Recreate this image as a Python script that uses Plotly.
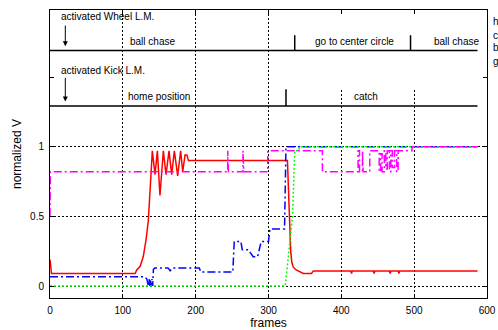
import plotly.graph_objects as go

# ---------------- data ----------------
red_x = [0, 2, 117, 119, 123.6, 128, 131.8, 135, 138.2, 140.5, 144.2, 147.4, 151, 155.6, 159.3, 163.4, 167.1,
         170.7, 175.3, 179.4, 182.2, 185.4, 188, 190, 326, 327.5, 329, 330.5, 332, 334, 338, 343, 347.8, 359,
         361.5, 413, 414, 415, 444, 445, 446, 466, 467, 468, 478, 479, 480, 587]
red_y = [0.19, 0.09, 0.09, 0.115, 0.14, 0.21, 0.33, 0.47, 0.76, 0.97, 0.8, 0.97, 0.65, 0.97, 0.8, 0.97, 0.8,
         0.97, 0.79, 0.97, 0.82, 0.94, 0.94, 0.9, 0.9, 0.65, 0.4, 0.25, 0.17, 0.135, 0.115, 0.103, 0.09, 0.09,
         0.107, 0.107, 0.09, 0.107, 0.107, 0.09, 0.107, 0.107, 0.09, 0.107, 0.107, 0.09, 0.107, 0.107]

blue_x = [0, 130, 133, 135, 136, 137, 138, 139, 140, 141, 142, 144, 162, 165, 168, 205, 207, 251, 253, 262,
          264, 273, 275, 279, 285, 287, 290, 300, 302, 322, 324, 587]
blue_y = [0.067, 0.067, 0.05, 0.0, 0.05, 0.0, 0.05, 0.0, 0.05, 0.0, 0.12, 0.13, 0.13, 0.11, 0.13, 0.13, 0.1,
          0.1, 0.32, 0.32, 0.26, 0.26, 0.24, 0.21, 0.21, 0.25, 0.32, 0.32, 0.41, 0.41, 1.0, 1.0]

mag_x = [0, 0.5, 244, 244, 245, 245, 265, 265, 266, 266, 299, 299, 374, 374, 423, 423, 425, 425, 429, 429,
         430, 430, 439, 439, 452, 452, 454, 454, 456, 456, 459, 459, 461, 461, 463, 463, 466, 466, 468, 468,
         470, 470, 473, 473, 476, 476, 478, 478, 497, 497, 587]
mag_y = [0.5, 0.82, 0.82, 0.97, 0.97, 0.82, 0.82, 0.97, 0.97, 0.82, 0.82, 0.97, 0.97, 0.82, 0.82, 0.97, 0.97,
         0.82, 0.82, 0.97, 0.97, 0.82, 0.82, 0.97, 0.97, 0.82, 0.82, 0.95, 0.95, 0.82, 0.82, 0.97, 0.97, 0.84,
         0.84, 0.97, 0.97, 0.82, 0.82, 0.97, 0.97, 0.85, 0.85, 0.97, 0.97, 0.82, 0.82, 0.97, 0.97, 1.0, 1.0]

green_x = [0, 323, 333, 336, 341, 343, 587]
green_y = [0.0, 0.0, 0.5, 0.97, 0.97, 1.0, 1.0]

# behaviour timelines
wheel_level = 1.69
wheel_bounds = [0, 336, 495, 587]
wheel_labels = ["ball chase", "go to center circle", "ball chase"]
wheel_label_x = [107.5, 361.5, 524]
kick_level = 1.292
kick_bounds = [0, 324, 587]
kick_labels = ["home position", "catch"]
kick_label_x = [104.5, 414]

x_ticks = [0, 100, 200, 300, 400, 500, 600]
y_ticks = [0, 0.5, 1]
y_ticktext = ["0", "0.5", "1"]
legend_letters = ["h", "c", "b", "g"]

FONT = "Liberation Sans, Arial, sans-serif"

fig = go.Figure()

# timeline lines
fig.add_trace(go.Scatter(x=[wheel_bounds[0], wheel_bounds[-1]], y=[wheel_level, wheel_level], mode="lines",
                         line=dict(color="black", width=1.5), showlegend=False, hoverinfo="skip"))
fig.add_trace(go.Scatter(x=[kick_bounds[0], kick_bounds[-1]], y=[kick_level, kick_level], mode="lines",
                         line=dict(color="black", width=1.5), showlegend=False, hoverinfo="skip"))
for b in wheel_bounds[1:-1]:
    fig.add_trace(go.Scatter(x=[b, b], y=[wheel_level, wheel_level + 0.11], mode="lines",
                             line=dict(color="black", width=1.5), showlegend=False, hoverinfo="skip"))
for b in kick_bounds[1:-1]:
    fig.add_trace(go.Scatter(x=[b, b], y=[kick_level, kick_level + 0.12], mode="lines",
                             line=dict(color="black", width=1.5), showlegend=False, hoverinfo="skip"))

# series
fig.add_trace(go.Scatter(x=red_x, y=red_y, mode="lines", name="home position",
                         line=dict(color="#ff0000", width=1.5)))
fig.add_trace(go.Scatter(x=blue_x, y=blue_y, mode="lines", name="catch",
                         line=dict(color="#0000ff", width=1.5, dash="8px,3px,2px,3px")))
fig.add_trace(go.Scatter(x=green_x, y=green_y, mode="lines", name="go to center circle",
                         line=dict(color="#00ff00", width=1.5, dash="2px,2px")))
fig.add_trace(go.Scatter(x=mag_x, y=mag_y, mode="lines", name="ball chase",
                         line=dict(color="#ff00ff", width=1.5, dash="8px,3px,2px,3px")))

annotations = []
# labels
annotations.append(dict(x=12.5, y=1.933, text="activated Wheel L.M.", showarrow=False,
                        xanchor="left", yanchor="middle"))
annotations.append(dict(x=12.5, y=1.546, text="activated Kick L.M.", showarrow=False,
                        xanchor="left", yanchor="middle"))
for t, xx in zip(wheel_labels, wheel_label_x):
    annotations.append(dict(x=xx, y=1.754, text=t, showarrow=False, xanchor="left", yanchor="middle"))
for t, xx in zip(kick_labels, kick_label_x):
    annotations.append(dict(x=xx, y=1.358, text=t, showarrow=False, xanchor="left", yanchor="middle"))
# arrows
annotations.append(dict(x=21, y=1.72, ax=21, ay=1.88, axref="x", ayref="y", xref="x", yref="y", text="",
                        showarrow=True, arrowhead=2, arrowsize=1, arrowwidth=1, arrowcolor="black"))
annotations.append(dict(x=21, y=1.325, ax=21, ay=1.505, axref="x", ayref="y", xref="x", yref="y", text="",
                        showarrow=True, arrowhead=2, arrowsize=1, arrowwidth=1, arrowcolor="black"))
# truncated legend letters (positioned in figure pixels, converted to paper fractions)
plot_w = 437
plot_h = 288
for i, l in enumerate(legend_letters):
    py = 22 + i * 13
    annotations.append(dict(x=(491.5 - 50) / plot_w, y=(298 - py) / plot_h, xref="paper", yref="paper",
                            text=l, showarrow=False, xanchor="left", yanchor="middle", borderpad=0,
                            font=dict(color="black", size=10)))

fig.update_layout(
    width=498, height=330,
    margin=dict(l=50, r=11, t=10, b=32),
    paper_bgcolor="white", plot_bgcolor="white",
    font=dict(family=FONT, size=10, color="black"),
    showlegend=False,
    annotations=annotations,
    shapes=[dict(type="rect", xref="x", yref="y", x0=305, x1=600, y0=1.42, y1=1.99,
                 fillcolor="white", line=dict(width=0), layer="between")],
)
fig.update_xaxes(
    range=[0, 600], tickvals=x_ticks, ticks="inside", ticklen=4, tickcolor="black",
    showline=True, linecolor="black", linewidth=1, mirror="ticks",
    showgrid=True, gridcolor="black", gridwidth=1, griddash="2px,2px", zeroline=False,
    title=dict(text="frames", standoff=8), ticklabelstandoff=3, automargin=False,
)
fig.update_yaxes(
    range=[-0.086, 1.981], tickvals=y_ticks, ticktext=y_ticktext, ticks="inside", ticklen=4, tickcolor="black",
    showline=True, linecolor="black", linewidth=1, mirror="ticks",
    showgrid=True, gridcolor="black", gridwidth=1, griddash="2px,2px", zeroline=False,
    minor=dict(tickvals=[1.5], ticks="inside", ticklen=4, tickcolor="black", showgrid=False),
    title=dict(text="normalized V", standoff=5), ticklabelstandoff=3, automargin=False,
)

fig.write_html(
    "out.html",
    config={"displayModeBar": False},
    post_script="document.body.style.margin='0';document.documentElement.style.overflow='hidden';"
                "document.body.style.overflow='hidden';",
)
